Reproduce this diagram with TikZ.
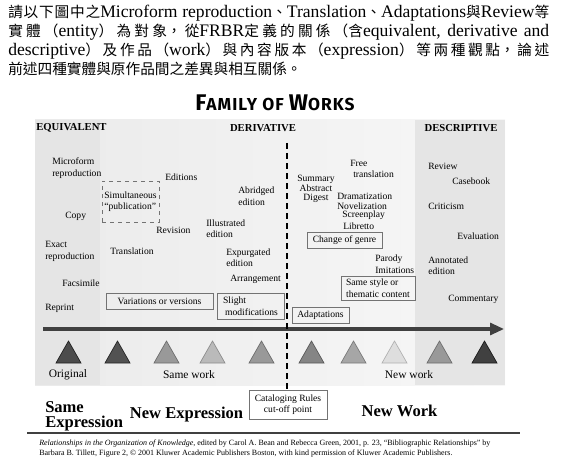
\documentclass[tikz,border=0pt]{standalone}
\usepackage{fontspec}
\setmainfont{Liberation Serif}
\newfontfamily\zhfont{Noto Sans CJK TC}
\newfontfamily\titlefont{Fira Sans}[LetterSpace=6]
\usetikzlibrary{arrows.meta}

\XeTeXlinebreaklocale "zh"
\XeTeXlinebreakskip=0pt plus 3pt

\newcommand{\zh}[1]{{\zhfont\fontsize{11}{14.25}\selectfont #1}}
\newcommand{\capbig}[1]{{\fontsize{17}{17}\selectfont #1}}

\begin{document}
\begin{tikzpicture}[x=0.75pt, y=-0.75pt,
  lbl/.style={font=\fontsize{7.2}{8.6}\selectfont, inner sep=0pt, align=left},
  hdr/.style={font=\fontsize{8}{9}\selectfont\bfseries, inner sep=0pt},
  relbox/.style={lbl, draw=black!55, line width=0.6pt},
  kind/.style={font=\fontsize{8.6}{10}\selectfont, inner sep=0pt},
  level/.style={font=\fontsize{12.4}{11.3}\selectfont\bfseries, inner sep=0pt, align=left},
  axis/.style={line width=2.3pt, black!75, -{Triangle[length=10.5pt,width=9pt]}},
  cutline/.style={line width=1.5pt, dash pattern=on 4.5pt off 3pt},
  tri/.style={line width=0.5pt}]

\useasboundingbox (0,0) rectangle (561,467);

% task text
\node[anchor=north west, inner sep=0pt, text width=405.75pt, align=justify,
      font=\fontsize{13.2}{14.25}\selectfont] (task) at (8,5)
  {\zh{請以下圖中之}Microform reproduction\zh{、}Translation\zh{、}Adaptations\zh{與}Review\zh{等}\linebreak
   \zh{實體（}entity\zh{）為對象，從}FRBR\zh{定義的關係（含}equivalent, derivative and\linebreak
   descriptive\zh{）及作品（}work\zh{）與內容版本（}expression\zh{）等兩種觀點，論述}\linebreak
   \zh{前述四種實體與原作品間之差異與相互關係。}};

% title
\node[font=\titlefont\bfseries\fontsize{13}{13}\selectfont, inner sep=0pt] (title) at (275,103)
  {\capbig{F}AMILY OF \capbig{W}ORKS};

% column shading
\shade[left color=black!8, right color=black!3] (35,120) rectangle (505,385);
\fill[black!10] (35,120) rectangle (100,385);
\fill[black!10] (415,120) rectangle (505,385);

% column heads
\node[hdr, anchor=west] (equiv) at (36,128) {EQUIVALENT};
\node[hdr] (deriv) at (263,128) {DERIVATIVE};
\node[hdr] (descr) at (461,128) {DESCRIPTIVE};

% equivalent
\node[lbl, anchor=west] (microform) at (52,168) {Microform\\reproduction};
\node[lbl, anchor=west] (copy) at (65,216) {Copy};
\node[lbl, anchor=west] (exact) at (45,251.5) {Exact\\reproduction};
\node[lbl, anchor=west] (facsimile) at (62,283) {Facsimile};
\node[lbl, anchor=west] (reprint) at (45,308) {Reprint};

% derivative, new expression
\node[relbox, dashed, minimum width=42.75pt, minimum height=30.75pt] (simul) at (130.5,201.5)
  {Simultaneous\\“publication”};
\node[lbl, anchor=west] (editions) at (165,177) {Editions};
\node[lbl, anchor=west] (revision) at (156,230) {Revision};
\node[lbl, anchor=west] (translation) at (110,251) {Translation};
\node[lbl, anchor=west] (illustrated) at (206,228.5) {Illustrated\\edition};
\node[lbl, anchor=west] (abridged) at (238,196) {Abridged\\edition};
\node[lbl, anchor=west] (expurgated) at (226,257.5) {Expurgated\\edition};
\node[lbl, anchor=west] (arrangement) at (230,279) {Arrangement};
\node[relbox, minimum width=80.25pt, minimum height=12pt] (variations) at (159.5,301)
  {Variations or versions};
\node[relbox, minimum width=50.25pt, minimum height=19.5pt] (slight) at (250.5,306)
  {Slight\\\hspace{1.5pt}modifications};

% derivative, new work
\node[lbl, align=center, font=\fontsize{7.2}{6.4}\selectfont] (summary) at (316,189)
  {Summary\\Abstract\\Digest};
\node[lbl, anchor=west] (freetrans) at (350,169) {Free\\\hspace{2.25pt}translation};
\node[lbl, anchor=west] (dramatization) at (337,196) {Dramatization};
\node[lbl, anchor=west] (novelization) at (337,206.5) {Novelization};
\node[lbl, anchor=west] (screenplay) at (342,215.5) {Screenplay};
\node[lbl, anchor=west] (libretto) at (343,226) {Libretto};
\node[relbox, minimum width=56.25pt, minimum height=12pt] (genre) at (344.5,240) {Change of genre};
\node[lbl, anchor=west] (parody) at (375,264) {Parody\\Imitations};
\node[relbox, minimum width=55.5pt, minimum height=18pt] (samestyle) at (378,288)
  {Same style or\\thematic content};
\node[relbox, minimum width=42.75pt, minimum height=12pt] (adaptations) at (320.5,315) {Adaptations};

% descriptive
\node[lbl, anchor=west] (review) at (428,166) {Review};
\node[lbl, anchor=west] (casebook) at (452,181) {Casebook};
\node[lbl, anchor=west] (criticism) at (428,206) {Criticism};
\node[lbl, anchor=west] (evaluation) at (457,236) {Evaluation};
\node[lbl, anchor=west] (annotated) at (428,265.5) {Annotated\\edition};
\node[lbl, anchor=west] (commentary) at (448,299) {Commentary};

% time line
\coordinate (axisL) at (43,329);
\coordinate (axisR) at (504,329);
\draw[axis] (axisL) -- (axisR);

% manifestations
\foreach \tx/\tc in {68.5/70, 117.5/68, 166.5/40, 212.5/27, 261.5/40,
                     311.5/48, 353.5/35, 394.5/13, 439.5/40, 484.5/75}
  {
  \pgfmathtruncatemacro\dc{min(\tc+18,90)}
  \filldraw[tri, fill=black!\tc, draw=black!\dc]
    (\tx-12.5,363) -- (\tx,341) -- (\tx+12.5,363) -- cycle;
  }

\node[kind] (original) at (68,375) {Original};
\node[kind] (samework) at (189,375) {Same work};
\node[kind] (newwork) at (409,375) {New work};

% cut-off
\node[relbox, align=center, fill=white, minimum width=58.5pt, minimum height=21.75pt] (cutoff)
  at (288,404.5) {Cataloging Rules\\cut-off point};
\coordinate (cuttop) at (287,143);
\draw[cutline] (cuttop) -- (cuttop |- cutoff.north);

% levels
\node[level, anchor=west] (sameexpr) at (45,416.5) {Same\\Expression};
\node[level] (newexpr) at (186.5,415) {New Expression};
\node[level] (newworkbig) at (399.5,411) {New Work};
\draw[line width=1.9pt, black!75] (27,433) -- (520,433);

% credit
\node[anchor=west, inner sep=0pt, align=left, font=\fontsize{6}{7.5}\selectfont] (credit) at (39,449)
  {\textit{Relationships in the Organization of Knowledge}, edited by Carol A. Bean and Rebecca Green, 2001, p. 23, “Bibliographic Relationships” by\\
   Barbara B. Tillett, Figure 2, © 2001 Kluwer Academic Publishers Boston, with kind permission of Kluwer Academic Publishers.};

\end{tikzpicture}
\end{document}
